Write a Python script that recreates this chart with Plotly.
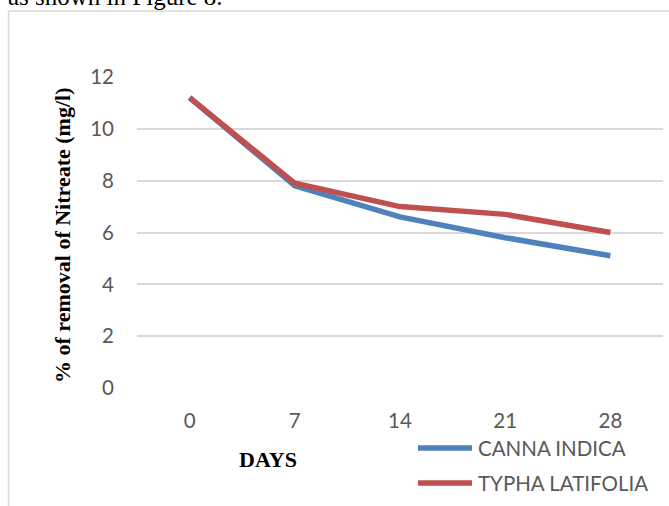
import plotly.graph_objects as go

# Nitrate readings (mg/l) over the retention period
days = ["0", "7", "14", "21", "28"]
canna_indica = [11.2, 7.8, 6.6, 5.8, 5.1]
typha_latifolia = [11.2, 7.9, 7.0, 6.7, 6.0]
series_names = ["CANNA INDICA", "TYPHA LATIFOLIA"]
series_colors = ["#4F81BD", "#C0504D"]
y_ticks = [0, 2, 4, 6, 8, 10, 12]

W, H = 669, 506
L, R, T, B = 137, 6, 77, 118
PW, PH = W - L - R, H - T - B


def px_x(px):
    return (px - L) / PW


def px_y(py):
    return (H - B - py) / PH


fig = go.Figure()
for name, vals, col in zip(series_names, [canna_indica, typha_latifolia], series_colors):
    fig.add_trace(go.Scatter(
        x=days, y=vals, mode="lines", name=name,
        line=dict(color=col, width=5.5), showlegend=False,
    ))

tick_font = dict(family="Lato", size=20.5, color="#595959")
fig.update_layout(
    width=W, height=H,
    margin=dict(l=L, r=R, t=T, b=B),
    paper_bgcolor="white", plot_bgcolor="white",
    xaxis=dict(
        type="category", range=[-0.5, 4.5], showgrid=False, zeroline=False,
        showline=False, ticks="", tickfont=tick_font, ticklabelstandoff=18,
    ),
    yaxis=dict(
        range=[0, 12], tickvals=y_ticks, showgrid=True, gridcolor="#D9D9D9",
        gridwidth=1.5, zeroline=False, showline=False, ticks="",
        tickfont=tick_font, ticklabelstandoff=22,
    ),
)

# outer chart frame (left and top edges)
frame = dict(color="#D9D9D9", width=1.5)
fig.add_shape(type="line", xref="paper", yref="paper",
              x0=px_x(8.5), x1=px_x(8.5), y0=px_y(11), y1=px_y(H + 5), line=frame)
fig.add_shape(type="line", xref="paper", yref="paper",
              x0=px_x(8.5), x1=px_x(W + 5), y0=px_y(11), y1=px_y(11), line=frame)

# legend drawn in the lower right
for i, (name, col) in enumerate(zip(series_names, series_colors)):
    yy = 448 + 35 * i
    fig.add_shape(type="line", xref="paper", yref="paper",
                  x0=px_x(418), x1=px_x(472), y0=px_y(yy), y1=px_y(yy),
                  line=dict(color=col, width=5.5))
    fig.add_annotation(xref="paper", yref="paper", x=px_x(476), y=px_y(yy),
                       text=name, showarrow=False, xanchor="left", yanchor="middle",
                       font=tick_font)

title_font = dict(family="Liberation Serif", size=22, color="#000000")
fig.add_annotation(xref="paper", yref="paper", x=px_x(62), y=px_y(236),
                   text="<b>% of removal of Nitreate (mg/l)</b>", textangle=-90,
                   showarrow=False, xanchor="center", yanchor="middle", font=title_font)
fig.add_annotation(xref="paper", yref="paper", x=px_x(268), y=px_y(460),
                   text="<b>DAYS</b>", showarrow=False, xanchor="center",
                   yanchor="middle", font=title_font)

# running text of the page above the chart
fig.add_annotation(xref="paper", yref="paper", x=px_x(6), y=px_y(12),
                   text="as shown in Figure 8.", showarrow=False, xanchor="left",
                   yanchor="bottom", font=dict(family="Liberation Serif", size=25, color="#000000"))

fig.write_html("out.html")
